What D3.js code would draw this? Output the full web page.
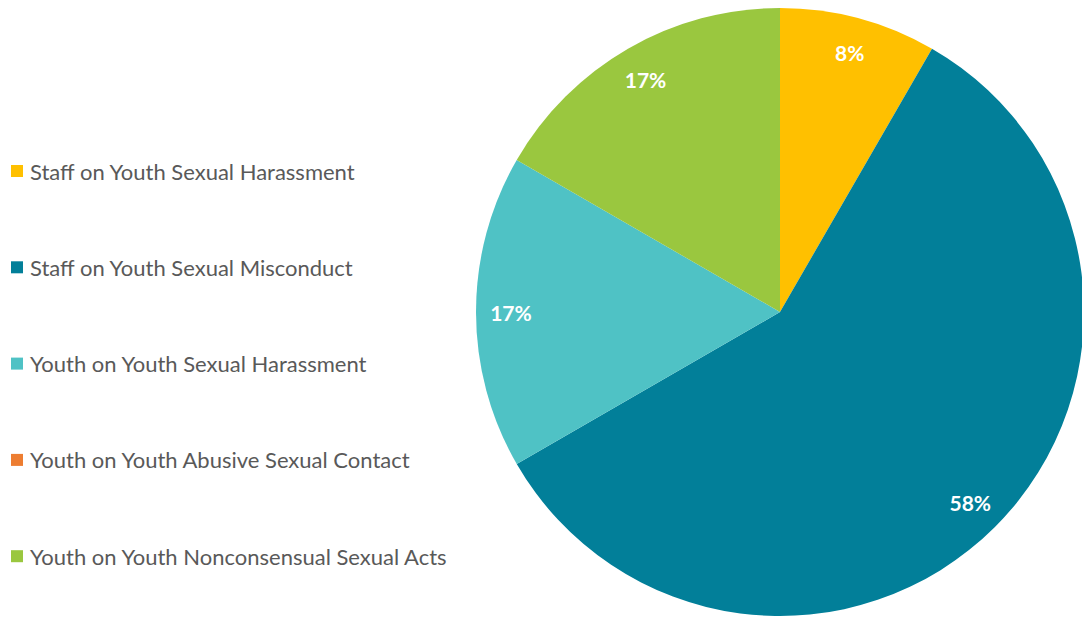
<!DOCTYPE html>
<html><head><meta charset="utf-8">
<script src="https://cdn.jsdelivr.net/npm/d3@7"></script>
<style>body{margin:0;background:#fff;}svg{display:block;}</style>
</head><body>
<svg id="chart" width="1082" height="620"></svg>
<script>
const categories = ["Staff on Youth Sexual Harassment","Staff on Youth Sexual Misconduct","Youth on Youth Sexual Harassment","Youth on Youth Abusive Sexual Contact","Youth on Youth Nonconsensual Sexual Acts"];
const values = [1, 7, 2, 0, 2];
const colors = ["#FFC000","#027F99","#4FC2C5","#ED7D31","#9AC73F"];

const svg = d3.select("#chart");
const cx = 780, cy = 312, r = 304;
const total = d3.sum(values);
const pie = d3.pie().sort(null).value(d => d.v);
const arcs = pie(categories.map((c,i)=>({c, v: values[i], col: colors[i]})));
const arc = d3.arc().innerRadius(0).outerRadius(r);
const labelArc = d3.arc().innerRadius(r*0.885).outerRadius(r*0.885);
const g = svg.append("g").attr("transform", `translate(${cx},${cy})`);
g.selectAll("path").data(arcs).join("path").attr("d", arc).attr("fill", d => d.data.col);
g.selectAll("text").data(arcs.filter(d => d.data.v > 0)).join("text")
  .attr("transform", d => `translate(${labelArc.centroid(d)})`)
  .attr("text-anchor","middle").attr("dominant-baseline","central")
  .attr("font-family","Lato, 'Open Sans', sans-serif").attr("font-weight","bold")
  .attr("font-size", 21).attr("fill","#fff")
  .text(d => d3.format(".0%")(d.data.v / total));

const leg = svg.append("g");
const rows = leg.selectAll("g").data(categories).join("g")
  .attr("transform", (d,i) => `translate(0,${171 + i*96.3})`);
rows.append("rect").attr("x", 11).attr("y", -6).attr("width", 12).attr("height", 12)
  .attr("fill", (d,i) => colors[i]);
rows.append("text").attr("x", 30).attr("y", 0).attr("dominant-baseline","central")
  .attr("font-family","Lato, 'Open Sans', sans-serif").attr("font-size", 22)
  .attr("fill","#595959").text(d => d);
</script>
</body></html>
